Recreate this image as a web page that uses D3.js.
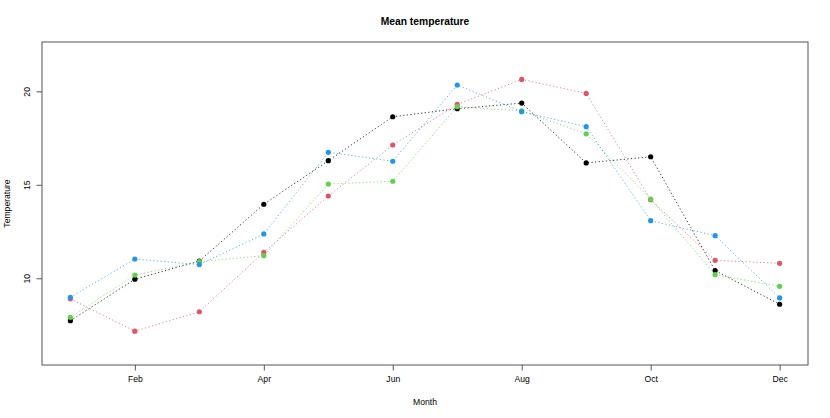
<!DOCTYPE html>
<html><head><meta charset="utf-8">
<script src="https://cdn.jsdelivr.net/npm/d3@7"></script>
<style>body{margin:0;background:#fff}svg{display:block}text{font-family:"Liberation Sans",Arial,sans-serif}</style>
</head><body><svg id="c" width="830" height="418"></svg>
<script>
const months = [1,2,3,4,5,6,7,8,9,10,11,12];
const tickMonths = [2,4,6,8,10,12];
const tickLabels = ["Feb","Apr","Jun","Aug","Oct","Dec"];
const yTicks = [10,15,20];
const seriesBlack = [7.73,9.95,10.92,13.96,16.29,18.64,19.07,19.37,16.17,16.50,10.41,8.61];
const seriesRed   = [8.90,7.17,8.21,11.39,14.40,17.13,19.30,20.64,19.89,14.20,10.96,10.80];
const seriesGreen = [7.91,10.17,10.89,11.21,15.04,15.19,19.18,18.95,17.73,14.24,10.19,9.57];
const seriesBlue  = [8.98,11.03,10.73,12.37,16.74,16.26,20.34,18.91,18.11,13.08,12.28,8.95];
const colors = ["#000000","#DF536B","#61D04F","#2297E6"];
const allSeries = [seriesBlack, seriesRed, seriesGreen, seriesBlue];

const svg = d3.select("#c");
const L=42, R=808, T=42, B=365;
const x = d3.scaleLinear().domain([1-0.44, 12+0.44]).range([L,R]);
const y = d3.scaleLinear().domain([6-0.64, 22+0.64]).range([B,T]);

// lines + points
const line = d3.line().x((d,i)=>x(months[i])).y(d=>y(d));
allSeries.forEach((s,k)=>{
  svg.append("path").attr("d", line(s)).attr("fill","none")
    .attr("stroke", colors[k]).attr("stroke-width",1).attr("stroke-dasharray","1.2,2.4")
    .attr("opacity", k===0?0.8:0.75);
});
allSeries.forEach((s,k)=>{
  svg.selectAll(null).data(s).enter().append("circle")
    .attr("cx",(d,i)=>x(months[i])).attr("cy",d=>y(d)).attr("r",2.6)
    .attr("fill",colors[k]);
});

// box
svg.append("rect").attr("x",L).attr("y",T).attr("width",R-L).attr("height",B-T)
  .attr("fill","none").attr("stroke","#555").attr("stroke-width",1);

// x axis
const xa = svg.append("g").attr("transform",`translate(0,${B})`)
  .call(d3.axisBottom(x).tickValues(tickMonths).tickFormat((d,i)=>tickLabels[i]).tickSize(5.5).tickPadding(5));
xa.select(".domain").remove();
xa.selectAll("line").attr("stroke","#555");
xa.selectAll("text").attr("font-size","8.6px").attr("fill","#000").attr("font-family","Liberation Sans, Arial, sans-serif");

// y axis
const ya = svg.append("g").attr("transform",`translate(${L},0)`)
  .call(d3.axisLeft(y).tickValues(yTicks).tickSize(5.5).tickFormat(d3.format("d")));
ya.select(".domain").remove();
ya.selectAll("line").attr("stroke","#555");
ya.selectAll("text").attr("font-size","8.6px").attr("fill","#000")
  .attr("font-family","Liberation Sans, Arial, sans-serif")
  .attr("text-anchor","middle").attr("dy",null).attr("x",null)
  .attr("transform",d=>`translate(-15,0) rotate(-90)`)
  .attr("y",0).attr("dominant-baseline","central");

// titles
svg.append("text").attr("x",(L+R)/2).attr("y",25).attr("text-anchor","middle")
  .attr("font-size","10.3px").attr("font-weight","bold").text("Mean temperature");
svg.append("text").attr("x",(L+R)/2).attr("y",405).attr("text-anchor","middle")
  .attr("font-size","8.6px").text("Month");
svg.append("text").attr("transform",`translate(10,${(T+B)/2}) rotate(-90)`).attr("text-anchor","middle")
  .attr("font-size","8.6px").text("Temperature");
</script></body></html>
